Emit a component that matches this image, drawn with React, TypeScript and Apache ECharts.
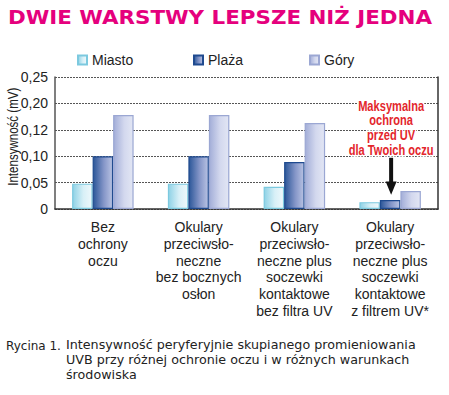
import React, { useEffect, useRef } from "react";
import * as echarts from "echarts";

const categories = [
  "Bez\nochrony\noczu",
  "Okulary\nprzeciwsło-\nneczne\nbez bocznych\nosłon",
  "Okulary\nprzeciwsło-\nneczne plus\nsoczewki\nkontaktowe\nbez filtra UV",
  "Okulary\nprzeciwsło-\nneczne plus\nsoczewki\nkontaktowe\nz filtrem UV*",
];
const seriesNames = ["Miasto", "Plaża", "Góry"];
const miasto = [0.048, 0.048, 0.042, 0.013];
const plaza = [0.1, 0.1, 0.089, 0.017];
const gory = [0.178, 0.178, 0.163, 0.034];
const tickLabels = ["0", "0,05", "0,10", "0,12", "0,20", "0,25"];

const titleText = "DWIE WARSTWY LEPSZE NIŻ JEDNA";
const yAxisName = "Intensywność (mV)";
const annotationText = "Maksymalna\nochrona\nprzed UV\ndla Twoich oczu";
const captionLabel = "Rycina 1.";
const captionLines = [
  "Intensywność peryferyjnie skupianego promieniowania",
  "UVB przy różnej ochronie oczu i w różnych warunkach",
  "środowiska",
];

const NARROW = "'Liberation Sans Narrow', 'Liberation Sans', sans-serif";

function grad(c0: string, c1: string, c2: string) {
  return new echarts.graphic.LinearGradient(0, 0, 1, 0, [
    { offset: 0, color: c0 },
    { offset: 0.55, color: c1 },
    { offset: 1, color: c2 },
  ]);
}

const styles = [
  { fill: grad("#8fd2e6", "#d8f0f7", "#eef8fb"), border: "#7cc9df" },
  { fill: grad("#2c5799", "#8596c8", "#b9c3e3"), border: "#1f4a8f" },
  { fill: grad("#a3aed8", "#d3d8ee", "#e2e6f4"), border: "#9ba7d3" },
];
const values = [miasto, plaza, gory];

export default function App() {
  const ref = useRef<HTMLDivElement>(null);
  useEffect(() => {
    if (!ref.current) return;
    const chart = echarts.init(ref.current, null, { renderer: "svg" });
    const legendLeft = [72, 188, 304];
    chart.setOption({
      animation: false,
      backgroundColor: "#ffffff",
      textStyle: { fontFamily: NARROW },
      legend: seriesNames.map((n, i) => ({
        data: [n],
        left: legendLeft[i],
        top: 48,
        icon: "rect",
        itemWidth: 9,
        itemHeight: 9,
        itemGap: 0,
        textStyle: { fontFamily: NARROW, fontSize: 14, color: "#222" },
      })),
      grid: { left: 55, right: 11, top: 77, bottom: 186, containLabel: false, outerBoundsMode: "none" },
      xAxis: {
        type: "category",
        data: categories,
        axisTick: { show: false },
        axisLine: { lineStyle: { color: "#333", width: 1.5 } },
        axisLabel: {
          interval: 0,
          fontFamily: NARROW,
          fontSize: 14,
          lineHeight: 16.7,
          color: "#222",
          margin: 10,
          verticalAlign: "top",
        },
      },
      yAxis: [
        {
          type: "value",
          min: 0,
          max: 0.25,
          interval: 0.05,
          axisLine: { show: true, lineStyle: { color: "#555", width: 1.5 } },
          axisTick: { show: false },
          axisLabel: {
            fontFamily: NARROW,
            fontSize: 14,
            color: "#222",
            margin: 7,
            formatter: (v: number) => tickLabels[Math.round(v / 0.05)] ?? "",
          },
          splitLine: { lineStyle: { color: "#555", type: [2, 1], width: 1 } },
        },
        {
          type: "value",
          min: 0,
          max: 0.25,
          interval: 0.05,
          position: "right",
          axisLine: { show: true, lineStyle: { color: "#333", width: 1.5 } },
          axisTick: { show: false },
          axisLabel: { show: false },
          splitLine: { show: false },
        },
      ],
      series: seriesNames.map((n, i) => ({
        name: n,
        type: "bar",
        data: values[i],
        barWidth: 20.5,
        barGap: "0%",
        itemStyle: { color: styles[i].fill, borderColor: styles[i].border, borderWidth: 1.2 },
      })),
    });

    const pTop = chart.convertToPixel({ xAxisIndex: 0, yAxisIndex: 0 }, [3, 0.2]) as number[];
    const pShaft = chart.convertToPixel({ xAxisIndex: 0, yAxisIndex: 0 }, [3, 0.097]) as number[];
    const pHead = chart.convertToPixel({ xAxisIndex: 0, yAxisIndex: 0 }, [3, 0.052]) as number[];
    const pTip = chart.convertToPixel({ xAxisIndex: 0, yAxisIndex: 0 }, [3, 0.027]) as number[];
    const pMid = chart.convertToPixel({ xAxisIndex: 0, yAxisIndex: 0 }, [0, 0.135]) as number[];
    const ax = pTop[0] + 1;

    chart.setOption({
      graphic: [
        {
          type: "text",
          x: 8,
          y: 7,
          scaleX: 1.07,
          style: {
            text: titleText,
            fontFamily: "'DejaVu Sans', sans-serif",
            fontWeight: "bold",
            fontSize: 20,
            fill: "#e5007d",
            verticalAlign: "top",
          },
        },
        {
          type: "text",
          x: 13,
          y: pMid[1] - 1,
          rotation: Math.PI / 2,
          scaleX: 0.77,
          style: {
            text: yAxisName,
            fontFamily: "'Liberation Sans', sans-serif",
            fontSize: 15,
            fill: "#222",
            align: "center",
            verticalAlign: "middle",
          },
        },
        {
          type: "text",
          x: ax,
          y: pTop[1] - 5,
          scaleX: 0.74,
          style: {
            text: annotationText,
            fontFamily: "'Liberation Sans', sans-serif",
            fontWeight: "bold",
            fontSize: 15,
            lineHeight: 14.6,
            fill: "#e3262c",
            stroke: "#ffffff",
            lineWidth: 3,
            align: "center",
            verticalAlign: "top",
          },
        },
        {
          type: "rect",
          shape: { x: ax - 2, y: pShaft[1], width: 4, height: pHead[1] - pShaft[1] + 1 },
          style: { fill: "#111" },
        },
        {
          type: "polygon",
          shape: {
            points: [
              [ax - 5.5, pHead[1]],
              [ax + 5.5, pHead[1]],
              [ax, pTip[1]],
            ],
          },
          style: { fill: "#111" },
        },
        {
          type: "text",
          x: 6,
          y: 338,
          style: {
            text: captionLabel,
            fontFamily: "'DejaVu Sans', sans-serif",
            fontSize: 12,
            lineHeight: 15,
            fill: "#222",
            verticalAlign: "top",
          },
        },
        {
          type: "text",
          x: 66,
          y: 338,
          scaleX: 1.06,
          style: {
            text: captionLines.join("\n"),
            fontFamily: "'DejaVu Sans', sans-serif",
            fontSize: 12,
            lineHeight: 15,
            fill: "#222",
            verticalAlign: "top",
          },
        },
      ],
    });
    return () => chart.dispose();
  }, []);
  return (
    <div
      ref={ref}
      style={{ position: "absolute", left: 0, top: 0, width: 449, height: 395 }}
    />
  );
}
